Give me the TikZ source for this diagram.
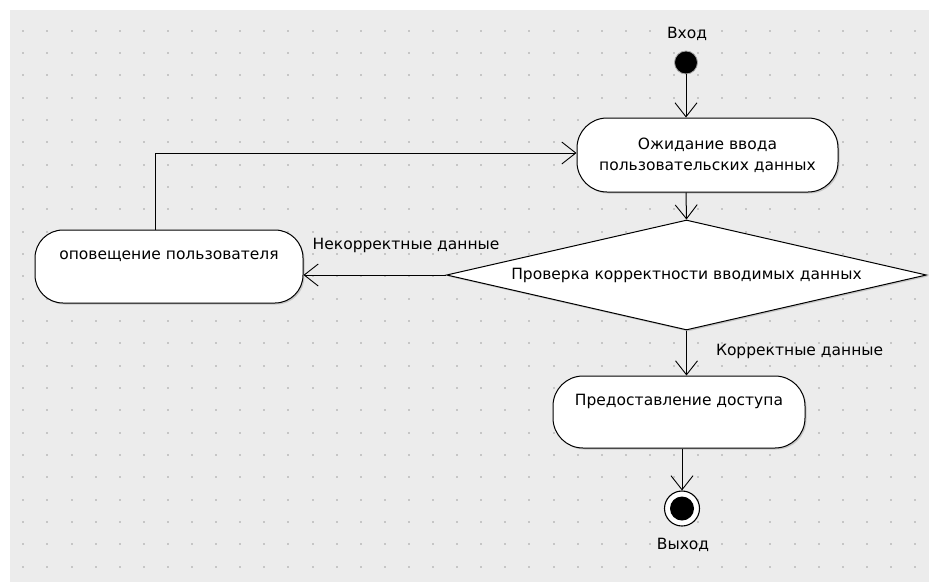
\documentclass[tikz,border=0pt]{standalone}
\usepackage{fontspec}
\setmainfont{DejaVu Sans}
\usetikzlibrary{arrows.meta,shapes.geometric,shadows}
\definecolor{panel}{HTML}{ECECEC}
\definecolor{dotc}{HTML}{C6C6C6}
\tikzset{
  act/.style={draw, line width=1pt, fill=white, rounded corners=30pt, align=center,
    drop shadow={shadow xshift=1.5pt, shadow yshift=-1.5pt, opacity=0.35}},
  arr/.style={line width=1pt, -{Straight Barb[length=14pt,width=22pt,line width=0.9pt]}},
  lbl/.style={inner sep=0pt}
}
\begin{document}
\begin{tikzpicture}[x=1pt,y=-1pt,font=\fontsize{15.5}{21}\selectfont]
\useasboundingbox (0,0) rectangle (929,582);
\fill[white] (0,0) rectangle (929,582);
\fill[panel] (10,10) rectangle (929,582);
\foreach \i in {0,...,37}{
  \foreach \j in {0,...,24}{
    \fill[dotc] ({22.3+24.1*\i},{29.7+22.33*\j}) rectangle ++(2,2);
  }
}
% nodes
\node[lbl] (inlbl) at (687,34) {Вход};
\node[circle, fill=black, draw=gray!70, line width=0.8pt, minimum size=23pt, inner sep=0pt] (start) at (686,62.5) {};
\node[act, minimum width=261pt, minimum height=74pt] (box1) at (707.5,155) {Ожидание ввода\\пользовательских данных};
\node[diamond, draw, line width=1pt, fill=white, aspect=4.36, minimum width=480pt, minimum height=110pt, inner sep=0pt,
  drop shadow={shadow xshift=1.5pt, shadow yshift=-1.5pt, opacity=0.35}] (dec) at (686.5,275) {Проверка корректности вводимых данных};
\node[act, rounded corners=28pt, minimum width=268pt, minimum height=73pt] (box2) at (169,266.5) {оповещение пользователя\\[2pt]~};
\node[act, minimum width=252pt, minimum height=72pt] (box3) at (679,412) {Предоставление доступа\\[3pt]~};
\node[circle, draw, fill=white, line width=1.1pt, minimum size=35pt, inner sep=0pt] (end) at (682,508.5) {};
\fill[black] (end.center) circle (12pt);
\node[lbl] (outlbl) at (683,545) {Выход};
% connectors
\draw[arr] (start) -- (start |- box1.north);
\draw[arr] (box1.south -| start) -- (dec.north);
\draw[arr] (dec.west) -- node[lbl, pos=0.28, yshift=30pt] (nolbl) {Некорректные данные} (dec.west -| box2.east);
\draw[arr] (dec.south) -- node[lbl, pos=0.47, anchor=west, xshift=29pt] (yeslbl) {Корректные данные} (dec.south |- box3.north);
\draw[arr] (end |- box3.south) -- (end.north);
\draw[arr] ([xshift=-14pt]box2.north) |- ([yshift=2pt]box1.west);
\end{tikzpicture}
\end{document}
